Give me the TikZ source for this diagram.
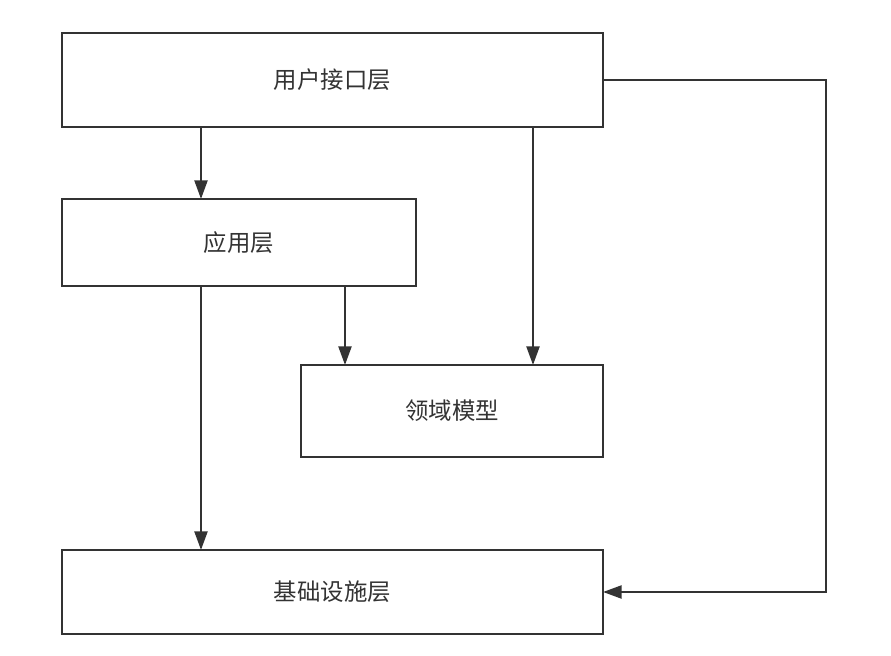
\documentclass[tikz,border=0pt]{standalone}
\usepackage{fontspec}
\newfontfamily\cjk{Noto Sans CJK SC}
\usepackage{xcolor}
\usepackage{tikz}
\usetikzlibrary{arrows.meta}
\definecolor{lnGray}{HTML}{333333}
\tikzset{
  layer/.style={draw=lnGray, line width=2pt, fill=white, inner sep=0pt, outer sep=0pt,
    text=lnGray, font=\cjk\fontsize{20}{24}\selectfont,
    minimum width=#1},
  layer/.default={16.23cm},
}

\begin{document}
\begin{tikzpicture}[x=0.03cm, y=-0.03cm,
  arr/.style={draw=lnGray, line width=2pt, -{Triangle[length=0.56cm, width=0.39cm]}}]
\path[fill=white, use as bounding box] (0,0) rectangle (891,656);
\node[layer, minimum height=2.82cm] (ui) at (332.5,80) {用户接口层};
\node[layer=10.62cm, minimum height=2.61cm] (app) at (239,242.5) {应用层};
\node[layer=9.06cm, minimum height=2.76cm] (domain) at (452,411) {领域模型};
\node[layer, minimum height=2.52cm] (infra) at (332.5,592) {基础设施层};
\coordinate (tapp) at ([xshift=4.17cm]app.north west);
\coordinate (tdom) at ([xshift=6.96cm]domain.north west);
\coordinate (tdom2) at ([xshift=1.32cm]domain.north west);
\coordinate (tinf) at ([xshift=4.17cm]infra.north west);
\draw[arr] (ui.south -| tapp) -- (tapp);
\draw[arr] (ui.south -| tdom) -- (tdom);
\draw[arr] (app.south -| tdom2) -- (tdom2);
\draw[arr] (app.south -| tinf) -- (tinf);
% side path down to the bottom layer
\draw[arr] (ui.east) -- ++(6.69cm,0) |- (infra.east);
\end{tikzpicture}
\end{document}
